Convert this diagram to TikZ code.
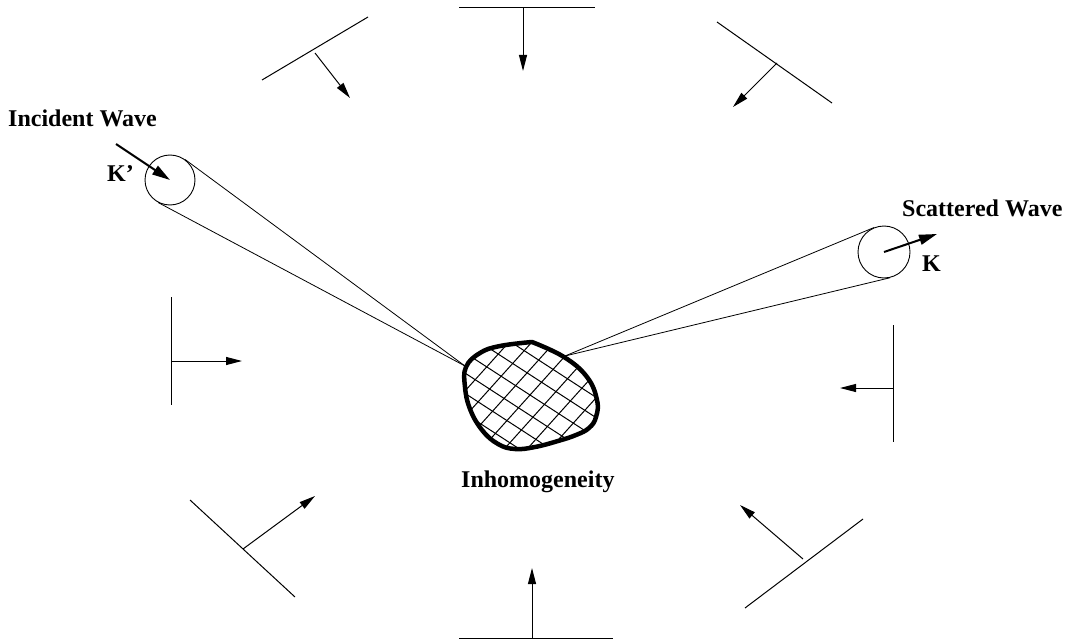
\documentclass[tikz,border=0pt]{standalone}
\usepackage{fontspec}
\setmainfont{Liberation Serif}
\usetikzlibrary{arrows.meta,calc}
\begin{document}
\begin{tikzpicture}[x=1pt,y=-1pt,
  front/.style={line width=1pt},
  wavearrow/.style={line width=1pt,-{Triangle[length=16pt,width=8pt]}},
  karrow/.style={line width=2pt,-{Triangle[length=18pt,width=10pt]}},
  ray/.style={line width=0.8pt},
  sphere/.style={circle,draw,line width=0.9pt,inner sep=0pt},
  lbl/.style={font=\bfseries\fontsize{24}{28}\selectfont,inner sep=0pt},
  hatch/.style={line width=1pt}]
\useasboundingbox (0,0) rectangle (1072,642);

% wave fronts with propagation arrows
\coordinate (tl1) at (262,80);  \coordinate (tl2) at (368,17);
\coordinate (tla) at (315,53);  \coordinate (tlb) at (350,98);
\coordinate (tc1) at (459,8);   \coordinate (tc2) at (595,8);
\coordinate (tca) at (523,8);   \coordinate (tcb) at (523,71);
\coordinate (tr1) at (717,22);  \coordinate (tr2) at (832,103);
\coordinate (tra) at (777,63);  \coordinate (trb) at (733,107);
\coordinate (l1) at (171,297);  \coordinate (l2) at (171,405);
\coordinate (la) at (171,361);  \coordinate (lb) at (242,361);
\coordinate (r1) at (893,325);  \coordinate (r2) at (893,442);
\coordinate (ra) at (893,388);  \coordinate (rb) at (840,388);
\coordinate (bl1) at (190,500); \coordinate (bl2) at (295,597);
\coordinate (bla) at (243,549); \coordinate (blb) at (315,496);
\coordinate (br1) at (745,608); \coordinate (br2) at (863,519);
\coordinate (bra) at (803,559); \coordinate (brb) at (740,505);
\coordinate (b1) at (459,638);  \coordinate (b2) at (613,638);
\coordinate (ba) at (532,638);  \coordinate (bb) at (532,568);

\foreach \w in {tl,tc,tr,l,r,bl,br,b}{
  \draw[front] (\w1) -- (\w2);
  \draw[wavearrow] (\w a) -- (\w b);
}

% incident and scattered spheres
\node[sphere,minimum size=50pt] (ci) at (170,180) {};
\node[sphere,minimum size=52pt] (cs) at (884,252) {};
\coordinate (pI) at (465,366);
\coordinate (pS) at (565,356);
\draw[ray] (tangent cs:node=ci,point={(pI)},solution=1) -- (pI);
\draw[ray] (tangent cs:node=ci,point={(pI)},solution=2) -- (pI);
\draw[ray] (tangent cs:node=cs,point={(pS)},solution=1) -- (pS);
\draw[ray] (tangent cs:node=cs,point={(pS)},solution=2) -- (pS);

\coordinate (kin) at (116,144);
\coordinate (kout) at (937,234);
\draw[karrow] (kin) -- (ci.center);
\draw[karrow] (cs.center) -- (kout);

% inhomogeneity
\begin{scope}
\clip plot[smooth,tension=0.7] coordinates {(532,342) (564,357) (587,377) (597,400) (596,417) (589,428) (576,435) (558,441) (535,447) (515,449) (498,444) (482,430) (470,409) (465,387) (466,367) (480,353) (500,346) (532,342)} -- cycle;
\foreach \k in {-9,...,9}{
  \draw[hatch] ({530+\k*17*(-0.545)-130*0.839},{395+\k*17*0.839-130*0.545}) -- ++({260*0.839},{260*0.545});
  \draw[hatch] ({530+\k*17*0.743-130*0.669},{395+\k*17*0.669+130*0.743}) -- ++({260*0.669},{-260*0.743});
}
\end{scope}
\draw[line width=4.5pt,line join=round] plot[smooth,tension=0.7] coordinates {(532,342) (564,357) (587,377) (597,400) (596,417) (589,428) (576,435) (558,441) (535,447) (515,449) (498,444) (482,430) (470,409) (465,387) (466,367) (480,353) (500,346) (532,342)} -- cycle;

% labels
\node[lbl,anchor=base west] (tinc) at (8,126) {Incident Wave};
\node[lbl,anchor=base west] (tkp) at (107,181) {K’};
\node[lbl,anchor=base west] (tsc) at (902,216) {Scattered Wave};
\node[lbl,anchor=base west] (tk) at (922,271) {K};
\node[lbl,anchor=base west] (tinh) at (461,487) {Inhomogeneity};
\end{tikzpicture}
\end{document}
